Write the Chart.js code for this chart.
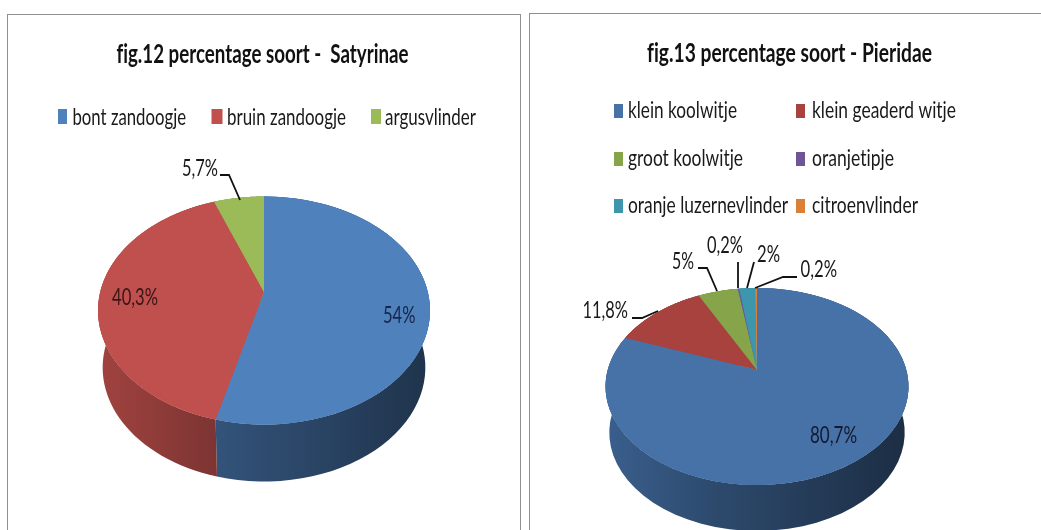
<!DOCTYPE html>
<html><head><meta charset="utf-8">
<script src="https://cdn.jsdelivr.net/npm/chart.js@4"></script>
<style>
html,body{margin:0;padding:0;background:#fff;width:1041px;height:530px;overflow:hidden}
.box{position:absolute;box-sizing:border-box;border:1.5px solid #8f8f8f;background:#fff}
canvas{position:absolute;filter:blur(.45px)}
</style></head><body>
<div class="box" style="left:7px;top:14px;width:514px;height:540px"></div>
<div class="box" style="left:529px;top:13px;width:540px;height:540px"></div>
<canvas id="c1" width="512" height="515" style="left:8px;top:15px"></canvas>
<canvas id="c2" width="521" height="530" style="left:529px;top:14px"></canvas>
<script>
const titleLeft = 'fig.12 percentage soort -  Satyrinae';
const categoriesLeft = ['bont zandoogje','bruin zandoogje','argusvlinder'];
const valuesLeft = [54, 40.3, 5.7];
const colorsLeft = ['#4f81bd','#c0504d','#9bbb59'];

const titleRight = 'fig.13 percentage soort - Pieridae';
const categoriesRight = ['klein koolwitje','klein geaderd witje','groot koolwitje','oranjetipje','oranje luzernevlinder','citroenvlinder'];
const valuesRight = [80.7, 11.8, 5, 0.2, 2, 0.2];
const colorsRight = ['#4672a8','#a8423f','#86a44a','#6f5596','#3d96ae','#da8137'];

const fmt = v => String(v).replace('.', ',') + '%';
const TEXT = '#191919', LEAD = '#111';

function fit(ctx, s, x, base, w, font, color){
  ctx.save();
  ctx.font = font; ctx.fillStyle = color; ctx.textBaseline = 'alphabetic'; ctx.textAlign = 'left';
  ctx.letterSpacing = '0.01px';
  const m = ctx.measureText(s).width;
  ctx.translate(x, base); ctx.scale(w / m, 1);
  ctx.fillText(s, 0, 0);
  ctx.restore();
}
function shade(hex, f){
  const n = parseInt(hex.slice(1), 16);
  return `rgb(${(n>>16&255)*f|0},${(n>>8&255)*f|0},${(n&255)*f|0})`;
}
function project(el, g, phi){
  const a = g.a, u = Math.cos(phi), v = Math.sin(phi), d = 1 - a * v;
  const sx = el.outerRadius * Math.sqrt(1 - a*a), r = g.ry * (1 - a*a);
  return {x: el.x + sx * u / d, y: el.y - a * g.ry + r * v / d};
}
const pie3d = {
  id: 'pie3d',
  beforeDatasetsDraw(chart, _, o){
    const ctx = chart.ctx, arcs = chart.getDatasetMeta(0).data, cols = chart.data.datasets[0].backgroundColor;
    const e0 = arcs[0];
    arcs.forEach((el, i) => {
      const g = ctx.createLinearGradient(el.x - el.outerRadius, 0, el.x + el.outerRadius, 0);
      g.addColorStop(0, shade(cols[i], .84));
      g.addColorStop(.36, shade(cols[i], .65));
      g.addColorStop(1, shade(cols[i], .4));
      ctx.fillStyle = g;
      ctx.beginPath();
      const n = 60, pts = [];
      for (let k = 0; k <= n; k++) pts.push(project(el, o, el.startAngle + (el.endAngle - el.startAngle) * k / n));
      pts.forEach((p, k) => k ? ctx.lineTo(p.x, p.y) : ctx.moveTo(p.x, p.y));
      pts.slice().reverse().forEach(p => ctx.lineTo(el.x + (p.x - el.x) * o.shrink, p.y + o.depth));
      ctx.closePath(); ctx.fill();
    });
    ctx.save();
    ctx.translate(e0.x, e0.y); ctx.scale(1, o.ry / e0.outerRadius); ctx.translate(-e0.x, -e0.y);
  },
  afterDatasetsDraw(chart, _, o){
    const ctx = chart.ctx, arcs = chart.getDatasetMeta(0).data, cols = chart.data.datasets[0].backgroundColor;
    ctx.restore();
    arcs.forEach((el, i) => {
      const n = 80;
      ctx.fillStyle = cols[i];
      ctx.beginPath();
      ctx.moveTo(el.x, el.y - o.a * o.ry);
      for (let k = 0; k <= n; k++){
        const p = project(el, o, el.startAngle + (el.endAngle - el.startAngle) * k / n);
        ctx.lineTo(p.x, p.y);
      }
      ctx.closePath(); ctx.fill();
    });
    // page-coordinate annotations
    ctx.save();
    ctx.translate(-o.ox, -o.oy);
    fit(ctx, o.title, o.titleX, o.titleBase, o.titleW, 'bold 27px Lato', '#111');
    o.legend.forEach((l, i) => {
      ctx.fillStyle = cols[i];
      ctx.fillRect(l.sx, l.sy, l.sw, l.sh);
      fit(ctx, chart.data.labels[i], l.x, l.base, l.w, o.legendFont, TEXT);
    });
    ctx.strokeStyle = LEAD; ctx.lineWidth = 1.8;
    const vals = chart.data.datasets[0].data;
    o.labels.forEach((l, i) => {
      fit(ctx, fmt(vals[i]), l.x, l.base, l.w, o.labelFont, l.c || TEXT);
      if (l.lead){
        ctx.beginPath();
        l.lead.forEach((p, k) => k ? ctx.lineTo(p[0], p[1]) : ctx.moveTo(p[0], p[1]));
        ctx.stroke();
      }
    });
    ctx.restore();
  }
};
function make(id, labels, data, colors, padding, opt){
  return new Chart(document.getElementById(id), {
    type: 'pie',
    data: {labels, datasets: [{data, backgroundColor: colors, borderWidth: 0}]},
    options: {
      responsive: false, animation: false, layout: {padding},
      plugins: {legend: {display: false}, title: {display: false}, tooltip: {enabled: false}, pie3d: opt}
    },
    plugins: [pie3d]
  });
}
make('c1', categoriesLeft, valuesLeft, colorsLeft,
  {left: 90, right: 90, top: 129.5, bottom: 53.5},
  {ox: 8, oy: 15, ry: 114, a: .163, depth: 57, shrink: .972,
   title: titleLeft, titleX: 116.5, titleBase: 62.5, titleW: 292,
   legendFont: '24px Lato', labelFont: '24px Lato',
   legend: [
     {sx: 58, sy: 109, sw: 9, sh: 15, x: 72.5, base: 124.5, w: 113.5},
     {sx: 211.5, sy: 109, sw: 11, sh: 15, x: 227, base: 124.5, w: 119},
     {sx: 371, sy: 109, sw: 10, sh: 15, x: 385, base: 124.5, w: 91}
   ],
   labels: [
     {x: 383, base: 323, w: 32.5, c: '#16264a'},
     {x: 112, base: 305, w: 46, c: '#3a1518'},
     {x: 182, base: 176, w: 36, lead: [[220,175],[229,175],[240,200]]}
   ]});
make('c2', categoriesRight, valuesRight, colorsRight,
  {left: 76.5, right: 141.5, top: 221, bottom: 6},
  {ox: 529, oy: 14, ry: 98.5, a: .17, depth: 46, shrink: .975,
   title: titleRight, titleX: 647, titleBase: 62, titleW: 285,
   legendFont: '23px Lato', labelFont: '24px Lato',
   legend: [
     {sx: 614, sy: 104, sw: 9, sh: 14, x: 628, base: 118, w: 109},
     {sx: 796, sy: 104, sw: 9, sh: 14, x: 812, base: 118, w: 144},
     {sx: 614, sy: 152, sw: 9, sh: 14, x: 628, base: 166, w: 115},
     {sx: 796, sy: 152, sw: 9, sh: 14, x: 812, base: 166, w: 82},
     {sx: 614, sy: 199, sw: 9, sh: 14, x: 628, base: 213, w: 160},
     {sx: 796, sy: 199, sw: 9, sh: 14, x: 812, base: 213, w: 106}
   ],
   labels: [
     {x: 810, base: 443, w: 47, c: '#141a2e'},
     {x: 582.5, base: 318, w: 45.5, lead: [[632,318],[642,318],[658,311]]},
     {x: 672, base: 269, w: 22, lead: [[698,268],[707,268],[717,291]]},
     {x: 707, base: 253, w: 36, lead: [[738,262],[738,288]]},
     {x: 757, base: 262, w: 23, lead: [[754,262],[747,288]]},
     {x: 800.5, base: 277, w: 36.5, lead: [[797,277],[783,277],[755,288]]}
   ]});
</script>
</body></html>
